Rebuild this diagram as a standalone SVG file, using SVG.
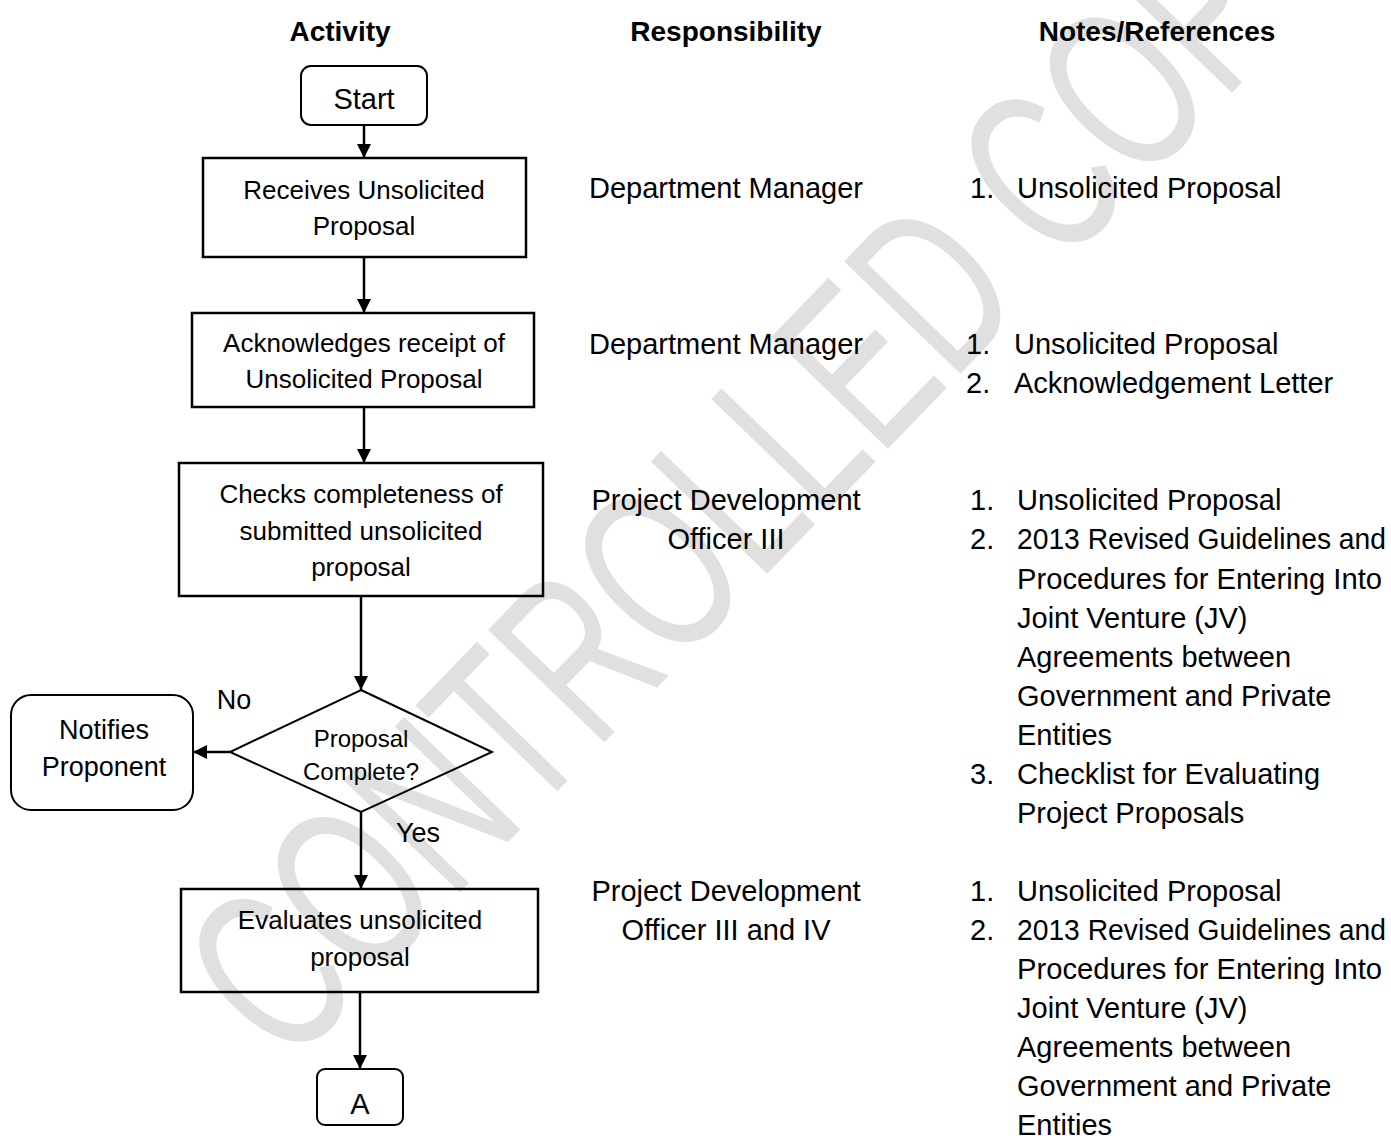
<svg xmlns="http://www.w3.org/2000/svg" width="1391" height="1136" viewBox="0 0 1391 1136">
<defs>
<marker id="ah" viewBox="0 0 10 10" refX="10" refY="5" markerWidth="14" markerHeight="14" markerUnits="userSpaceOnUse" orient="auto">
<path d="M0,0 L10,5 L0,10 Z" fill="#000"/>
</marker>
<style>
text{font-family:"Liberation Sans",Arial,sans-serif;fill:#000}
.h{font-size:28px;font-weight:bold;text-anchor:middle}
.b{font-size:26px;text-anchor:middle}
.r{font-size:29px;text-anchor:middle}
.n{font-size:29px}
.box{fill:none;stroke:#000;stroke-width:2.5}
.rbox{fill:none;stroke:#000;stroke-width:2}
.c{stroke:#000;stroke-width:2.5;fill:none;marker-end:url(#ah)}
.wm{font-size:235px;fill:#e0e0e0}
</style>
</defs>
<rect width="1391" height="1136" fill="#fff"/>
<text class="wm" transform="translate(288,1070) rotate(-46) scale(0.665,1)">CONTROLLED COPY</text>

<g id="headers">
<text class="h" x="340" y="41">Activity</text>
<text class="h" x="726" y="41">Responsibility</text>
<text class="h" x="1157" y="41">Notes/References</text>
</g>

<g id="connectors">
<line class="c" x1="364" y1="125" x2="364" y2="158"/>
<line class="c" x1="364" y1="257" x2="364" y2="313"/>
<line class="c" x1="364" y1="407" x2="364" y2="463"/>
<line class="c" x1="361" y1="596" x2="361" y2="690"/>
<line class="c" x1="230" y1="752" x2="193" y2="752"/>
<line class="c" x1="361" y1="812" x2="361" y2="889"/>
<line class="c" x1="360" y1="992" x2="360" y2="1069"/>
<text class="n" x="234" y="709" style="font-size:27px;text-anchor:middle">No</text>
<text class="n" x="418" y="842" style="font-size:27px;text-anchor:middle">Yes</text>
</g>

<g id="start">
<rect class="rbox" x="301" y="66" width="126" height="59" rx="10"/>
<text class="r" x="364" y="109">Start</text>
</g>
<g id="receives">
<rect class="box" x="203" y="158" width="323" height="99"/>
<text class="b" x="364" y="199">Receives Unsolicited</text>
<text class="b" x="364" y="235">Proposal</text>
</g>
<g id="acknowledges">
<rect class="box" x="192" y="313" width="342" height="94"/>
<text class="b" x="364" y="352">Acknowledges receipt of</text>
<text class="b" x="364" y="388">Unsolicited Proposal</text>
</g>
<g id="checks">
<rect class="box" x="179" y="463" width="364" height="133"/>
<text class="b" x="361" y="503">Checks completeness of</text>
<text class="b" x="361" y="540">submitted unsolicited</text>
<text class="b" x="361" y="576">proposal</text>
</g>
<g id="decision">
<polygon class="rbox" points="361,690 492,752 361,812 230,752"/>
<text class="b" x="361" y="747" style="font-size:24px">Proposal</text>
<text class="b" x="361" y="780" style="font-size:24px">Complete?</text>
</g>
<g id="notifies">
<rect class="rbox" x="11" y="695" width="182" height="115" rx="20"/>
<text class="b" x="104" y="739" style="font-size:27px">Notifies</text>
<text class="b" x="104" y="776" style="font-size:27px">Proponent</text>
</g>
<g id="evaluates">
<rect class="box" x="181" y="889" width="357" height="103"/>
<text class="b" x="360" y="929">Evaluates unsolicited</text>
<text class="b" x="360" y="966">proposal</text>
</g>
<g id="connectorA">
<rect class="rbox" x="317" y="1069" width="86" height="56" rx="8"/>
<text class="r" x="360" y="1114">A</text>
</g>

<g id="responsibility">
<text class="r" x="726" y="198">Department Manager</text>
<text class="r" x="726" y="354">Department Manager</text>
<text class="r" x="726" y="510">Project Development</text>
<text class="r" x="726" y="549">Officer III</text>
<text class="r" x="726" y="901">Project Development</text>
<text class="r" x="726" y="940">Officer III and IV</text>
</g>

<g id="notes">
<text class="n" x="970" y="198">1.</text><text class="n" x="1017" y="198">Unsolicited Proposal</text>
<text class="n" x="966" y="354">1.</text><text class="n" x="1014" y="354">Unsolicited Proposal</text>
<text class="n" x="966" y="393">2.</text><text class="n" x="1014" y="393">Acknowledgement Letter</text>
<text class="n" x="970" y="510">1.</text><text class="n" x="1017" y="510">Unsolicited Proposal</text>
<text class="n" x="970" y="549">2.</text><text class="n" x="1017" y="549" textLength="369" lengthAdjust="spacingAndGlyphs">2013 Revised Guidelines and</text>
<text class="n" x="1017" y="589" textLength="365" lengthAdjust="spacingAndGlyphs">Procedures for Entering Into</text>
<text class="n" x="1017" y="628">Joint Venture (JV)</text>
<text class="n" x="1017" y="667">Agreements between</text>
<text class="n" x="1017" y="706">Government and Private</text>
<text class="n" x="1017" y="745">Entities</text>
<text class="n" x="970" y="784">3.</text><text class="n" x="1017" y="784">Checklist for Evaluating</text>
<text class="n" x="1017" y="823">Project Proposals</text>
<text class="n" x="970" y="901">1.</text><text class="n" x="1017" y="901">Unsolicited Proposal</text>
<text class="n" x="970" y="940">2.</text><text class="n" x="1017" y="940" textLength="369" lengthAdjust="spacingAndGlyphs">2013 Revised Guidelines and</text>
<text class="n" x="1017" y="979" textLength="365" lengthAdjust="spacingAndGlyphs">Procedures for Entering Into</text>
<text class="n" x="1017" y="1018">Joint Venture (JV)</text>
<text class="n" x="1017" y="1057">Agreements between</text>
<text class="n" x="1017" y="1096">Government and Private</text>
<text class="n" x="1017" y="1135">Entities</text>
</g>
</svg>
